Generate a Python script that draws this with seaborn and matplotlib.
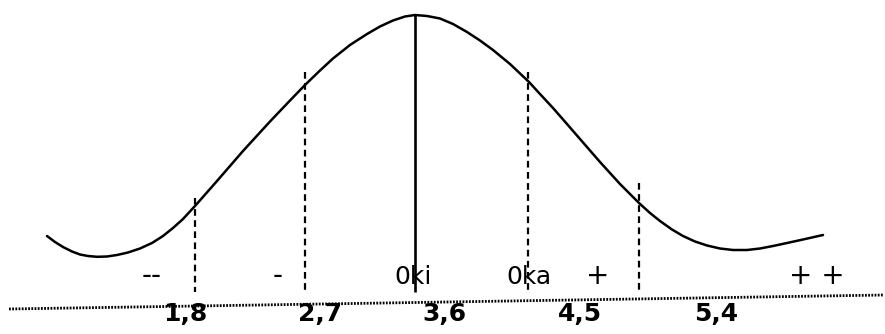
"""Bell curve with cut points and score bands, redrawn with seaborn."""

import matplotlib
matplotlib.use("Agg")
import matplotlib.pyplot as plt
import pandas as pd
import seaborn as sns

# curve (x to the right, y downwards, in picture units)
curve_x = [47, 55, 63, 72, 80, 88, 97, 107, 117, 128, 140, 152, 163, 173, 183,
           195, 217, 243, 270, 290, 305, 320, 333, 350, 367, 380, 393, 405,
           415, 427, 440, 453, 467, 480, 493, 510, 529, 540, 553, 567, 580,
           600, 620, 639, 650, 660, 672, 683, 695, 707, 720, 733, 747, 760,
           773, 787, 803, 823]
curve_y = [236, 242, 247, 251.5, 254.5, 256, 256.8, 256.5, 255, 252.5, 248.5, 243, 236, 228, 219,
           206, 181, 151, 121.5, 100.5, 85, 70.5, 58.5, 45, 34, 26.5, 20.5, 16.5,
           15, 16, 18.5, 24, 32, 40.5, 50, 64, 82, 94, 108, 124, 139,
           162, 184, 203, 213, 221, 229.5, 236, 241.5, 245.5, 248.5, 250, 250, 248.5,
           246, 243, 239.5, 235]

# cut points (dashed) and the mean (solid)
cut_x = [195, 305, 528, 639]
cut_top = [198, 72, 72, 183]
mean_x = 415
mean_top = 15
line_bottom = 292

# sloping dotted base line
base_x = [9, 884]
base_y = [309, 295]

# band labels above the base line
band_labels = ["--", "-", "0ki", "0ka", "+", "+ +"]
band_x = [152, 278, 413, 529, 598, 817]

# score labels below the base line
score_labels = ["1,8", "2,7", "3,6", "4,5", "5,4"]
score_x = [185, 320, 444, 580, 716]

sns.set_theme(style="white")
plt.rcParams["font.family"] = ["DejaVu Sans"]

fig = plt.figure(figsize=(8.85, 3.34), dpi=100)
ax = fig.add_axes([0, 0, 1, 1])

curve = pd.DataFrame({"x": curve_x, "y": curve_y})
sns.lineplot(data=curve, x="x", y="y", color="black", linewidth=1.8,
             sort=False, estimator=None, ax=ax)

ax.vlines(cut_x, cut_top, line_bottom, colors="black", linewidth=1.6,
          linestyles=(0, (3, 2)))
ax.vlines(mean_x, mean_top, line_bottom, colors="black", linewidth=1.9)

sns.lineplot(x=base_x, y=base_y, color="black", linewidth=2.0,
             linestyle=(0, (0.65, 0.5)), ax=ax)

for label, x in zip(band_labels, band_x):
    # the sign labels are drawn a bit larger than the words
    size = 18 if label[0] == "0" else 20
    ax.text(x, 284, label, ha="center", va="baseline", fontsize=size,
            color="black")

for label, x in zip(score_labels, score_x):
    ax.text(x, 321, label, ha="center", va="baseline", fontsize=18,
            fontweight="bold", color="black")

ax.set_xlim(0, 885)
ax.set_ylim(334, 0)
ax.set_axis_off()

fig.savefig("out.png", dpi=100)
plt.close(fig)
